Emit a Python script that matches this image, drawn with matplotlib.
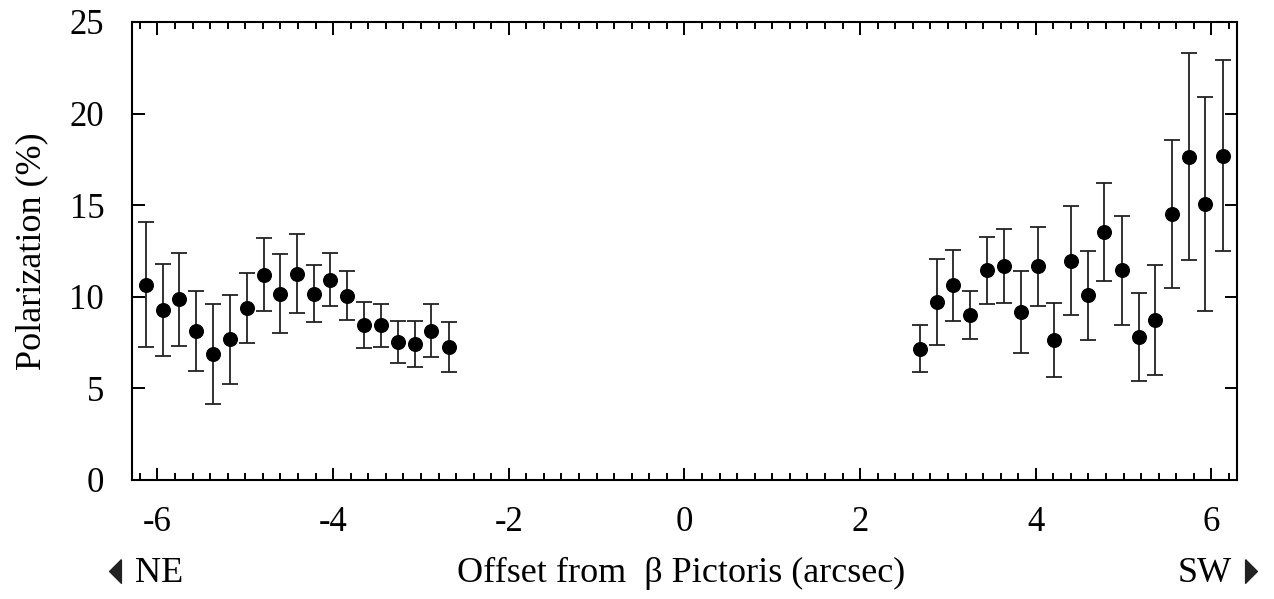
import numpy as np
import matplotlib
matplotlib.use("Agg")
import matplotlib.pyplot as plt
from matplotlib.ticker import MultipleLocator
from matplotlib.lines import Line2D
from matplotlib.path import Path

plt.rcParams['font.family'] = ['Liberation Serif', 'DejaVu Sans']
plt.rcParams['axes.unicode_minus'] = False

# NE side
x_ne = [-6.13, -5.94, -5.75, -5.56, -5.37, -5.17, -4.98, -4.79, -4.60, -4.41,
        -4.22, -4.03, -3.84, -3.65, -3.45, -3.26, -3.07, -2.88, -2.68]
p_ne = [10.66, 9.28, 9.86, 8.13, 6.90, 7.68, 9.39, 11.20, 10.17, 11.27,
        10.17, 10.93, 10.06, 8.46, 8.44, 7.53, 7.42, 8.15, 7.28]
e_ne = [3.41, 2.50, 2.53, 2.20, 2.73, 2.42, 1.92, 2.00, 2.17, 2.13,
        1.56, 1.45, 1.35, 1.26, 1.18, 1.17, 1.25, 1.44, 1.37]

# SW side
x_sw = [2.68, 2.87, 3.06, 3.25, 3.45, 3.64, 3.83, 4.02, 4.21, 4.40,
        4.59, 4.78, 4.98, 5.17, 5.36, 5.55, 5.74, 5.93, 6.13]
p_sw = [7.17, 9.71, 10.62, 9.00, 11.44, 11.67, 9.19, 11.67, 7.64, 11.98,
        10.09, 13.52, 11.44, 7.81, 8.71, 14.53, 17.65, 15.07, 17.70]
e_sw = [1.29, 2.35, 1.92, 1.30, 1.84, 2.02, 2.24, 2.15, 2.01, 3.00,
        2.43, 2.67, 2.98, 2.40, 3.00, 4.05, 5.64, 5.84, 5.21]

fig = plt.figure(figsize=(12.74, 5.99), dpi=100)
ax = fig.add_axes([0.1036, 0.1987, 0.8673, 0.7646])

for xs, ps, es in [(x_ne, p_ne, e_ne), (x_sw, p_sw, e_sw)]:
    ax.errorbar(xs, ps, yerr=es, fmt='o', color='black', ms=9.8,
                ecolor='#222222', elinewidth=1.3, capsize=6, capthick=1.3)

ax.set_xlim(-6.29, 6.29)
ax.set_ylim(0, 25)
ax.xaxis.set_major_locator(MultipleLocator(2))
ax.xaxis.set_minor_locator(MultipleLocator(0.2))
ax.yaxis.set_major_locator(MultipleLocator(5))

ax.tick_params(which='both', direction='in', top=True, right=True, width=1.4)
ax.tick_params(which='major', length=9, labelsize=25)
ax.tick_params(axis='x', which='major', pad=19)
ax.tick_params(axis='y', which='major', pad=20)
ax.tick_params(which='minor', length=5)
for s in ax.spines.values():
    s.set_linewidth(1.5)

ax.set_ylabel('Polarization (%)', fontsize=26, labelpad=15)

# direction labels under the axis
fig.text(0.5345, 0.028, 'Offset from  \u03b2 Pictoris (arcsec)', ha='center',
         va='baseline', fontsize=26)
fig.text(0.106, 0.028, 'NE', ha='left', va='baseline', fontsize=26)
fig.text(0.967, 0.028, 'SW', ha='right', va='baseline', fontsize=26)

left_tri = Path([(0.5, 1), (0.5, -1), (-0.5, 0), (0.5, 1)])
right_tri = Path([(-0.5, 1), (-0.5, -1), (0.5, 0), (-0.5, 1)])
fig.add_artist(Line2D([0.0905], [0.0467], marker=left_tri, ms=17,
                      color='#222222', transform=fig.transFigure))
fig.add_artist(Line2D([0.982], [0.0467], marker=right_tri, ms=17,
                      color='#222222', transform=fig.transFigure))

fig.savefig('out.png', dpi=100)
